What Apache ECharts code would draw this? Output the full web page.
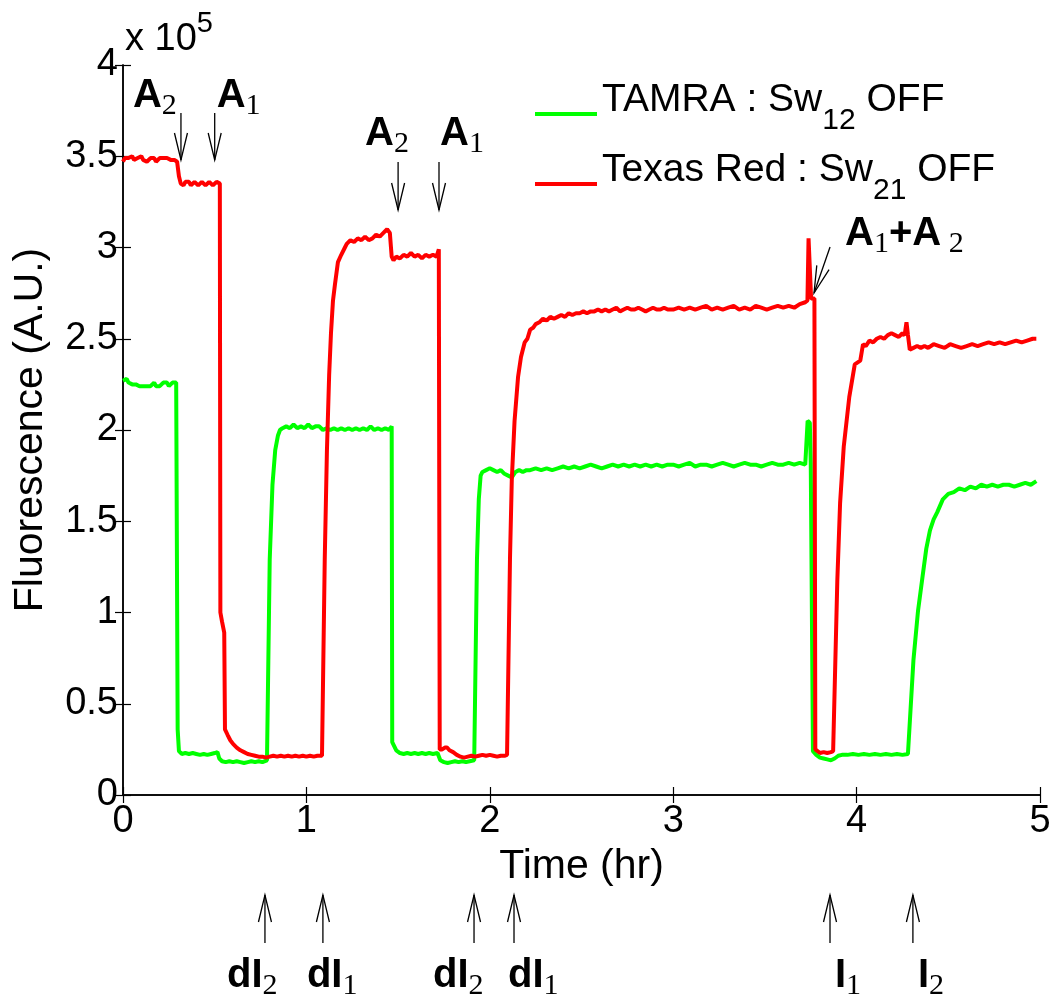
<!DOCTYPE html>
<html>
<head>
<meta charset="utf-8">
<script src="https://cdn.jsdelivr.net/npm/echarts@6/dist/echarts.min.js"></script>
<style>
  html, body { margin: 0; padding: 0; background: #fff; }
  #chart { width: 1058px; height: 1002px; }
</style>
</head>
<body>
<div id="chart"></div>
<script>
// Fluorescence traces, values in units of 1e5 A.U., time in hours
const tamra = [
  [0.00,2.27],[0.01,2.26],[0.02,2.28],[0.03,2.26],[0.04,2.27],[0.05,2.25],[0.06,2.26],[0.07,2.25],[0.08,2.26],[0.09,2.24],
  [0.10,2.25],[0.11,2.24],[0.12,2.25],[0.13,2.24],[0.14,2.25],[0.15,2.24],[0.16,2.25],[0.17,2.26],[0.18,2.24],[0.19,2.25],
  [0.20,2.24],[0.21,2.25],[0.22,2.26],[0.23,2.25],[0.24,2.26],[0.25,2.24],[0.26,2.25],[0.27,2.26],[0.28,2.25],[0.29,2.26],[0.295,2.25],
  [0.298,0.36],[0.305,0.24],[0.32,0.225],[0.34,0.23],[0.36,0.225],[0.38,0.23],[0.40,0.225],[0.42,0.22],[0.44,0.225],[0.46,0.22],
  [0.48,0.225],[0.50,0.23],[0.515,0.235],[0.525,0.20],[0.54,0.185],[0.56,0.18],[0.58,0.185],[0.60,0.18],[0.62,0.185],[0.64,0.18],
  [0.66,0.175],[0.68,0.18],[0.70,0.185],[0.72,0.18],[0.74,0.185],[0.76,0.18],[0.785,0.19],
  [0.80,1.29],[0.815,1.70],[0.83,1.89],[0.845,1.97],[0.856,2.00],[0.87,2.01],[0.89,2.02],[0.91,2.01],[0.93,2.03],[0.95,2.01],
  [0.97,2.02],[0.99,2.01],[1.01,2.03],[1.03,2.01],[1.05,2.02],[1.07,2.02],[1.09,2.00],[1.11,2.01],[1.13,2.00],[1.15,2.01],
  [1.17,2.00],[1.19,2.01],[1.21,2.00],[1.23,2.01],[1.25,2.00],[1.27,2.01],[1.29,2.00],[1.31,2.01],[1.33,2.00],[1.35,2.02],
  [1.37,2.00],[1.39,2.01],[1.41,2.00],[1.43,2.01],[1.45,2.00],[1.465,2.02],
  [1.468,0.29],[1.49,0.245],[1.51,0.23],[1.53,0.225],[1.55,0.23],[1.57,0.225],[1.59,0.23],[1.61,0.225],[1.63,0.23],[1.65,0.225],
  [1.67,0.23],[1.69,0.225],[1.715,0.23],[1.73,0.19],[1.75,0.18],[1.77,0.175],[1.79,0.18],[1.81,0.185],[1.83,0.18],[1.85,0.185],
  [1.87,0.18],[1.89,0.185],[1.915,0.19],
  [1.93,1.29],[1.94,1.62],[1.95,1.75],[1.96,1.77],[1.98,1.78],[2.00,1.79],[2.02,1.78],[2.04,1.77],[2.06,1.78],[2.08,1.76],
  [2.10,1.75],[2.12,1.74],[2.14,1.77],[2.16,1.78],[2.18,1.77],[2.20,1.78],[2.22,1.78],[2.25,1.79],[2.28,1.78],[2.31,1.79],
  [2.34,1.78],[2.37,1.79],[2.40,1.80],[2.43,1.79],[2.46,1.80],[2.49,1.79],[2.52,1.80],[2.55,1.81],[2.58,1.80],[2.61,1.79],
  [2.64,1.80],[2.67,1.81],[2.70,1.80],[2.73,1.81],[2.76,1.80],[2.79,1.81],[2.82,1.80],[2.85,1.81],[2.88,1.80],[2.91,1.81],
  [2.94,1.80],[2.97,1.81],[3.00,1.81],[3.03,1.80],[3.06,1.81],[3.09,1.82],[3.12,1.80],[3.15,1.81],[3.18,1.81],[3.21,1.80],
  [3.24,1.81],[3.27,1.82],[3.30,1.81],[3.33,1.80],[3.36,1.81],[3.39,1.82],[3.42,1.81],[3.45,1.81],[3.48,1.80],[3.51,1.81],
  [3.54,1.82],[3.57,1.81],[3.60,1.81],[3.63,1.82],[3.66,1.81],[3.69,1.82],[3.72,1.81],[3.728,1.82],[3.733,2.05],[3.745,2.04],
  [3.75,1.82],[3.758,1.82],
  [3.762,0.24],[3.78,0.22],[3.80,0.205],[3.82,0.20],[3.84,0.195],[3.86,0.19],[3.88,0.20],[3.90,0.215],[3.92,0.22],[3.95,0.22],
  [3.98,0.225],[4.01,0.22],[4.04,0.225],[4.07,0.22],[4.10,0.225],[4.13,0.22],[4.16,0.225],[4.19,0.22],[4.22,0.225],[4.25,0.22],[4.28,0.225],
  [4.31,0.74],[4.335,1.01],[4.36,1.20],[4.38,1.35],[4.40,1.45],[4.42,1.51],[4.44,1.55],[4.47,1.62],[4.50,1.65],[4.53,1.66],
  [4.56,1.68],[4.59,1.67],[4.62,1.69],[4.65,1.68],[4.68,1.70],[4.71,1.69],[4.74,1.70],[4.77,1.69],[4.80,1.70],[4.83,1.70],
  [4.86,1.69],[4.89,1.70],[4.92,1.71],[4.95,1.70],[4.98,1.72]
];

const texasRed = [
  [0.00,3.47],[0.01,3.49],[0.02,3.48],[0.03,3.49],[0.04,3.48],[0.05,3.50],[0.06,3.48],[0.07,3.47],[0.08,3.49],[0.09,3.48],
  [0.10,3.50],[0.11,3.48],[0.12,3.49],[0.13,3.47],[0.14,3.48],[0.15,3.49],[0.16,3.48],[0.17,3.49],[0.18,3.47],[0.19,3.48],
  [0.20,3.49],[0.21,3.48],[0.22,3.49],[0.23,3.48],[0.24,3.49],[0.25,3.48],[0.26,3.48],[0.27,3.49],[0.28,3.48],[0.295,3.47],
  [0.305,3.39],[0.315,3.35],[0.33,3.34],[0.34,3.36],[0.35,3.35],[0.36,3.36],[0.37,3.34],[0.38,3.35],[0.39,3.36],[0.40,3.35],
  [0.41,3.34],[0.42,3.35],[0.43,3.36],[0.44,3.35],[0.45,3.34],[0.46,3.35],[0.47,3.36],[0.48,3.35],[0.49,3.34],[0.50,3.35],
  [0.51,3.36],[0.52,3.35],[0.528,3.35],
  [0.531,1.00],[0.54,0.95],[0.552,0.89],[0.556,0.36],[0.57,0.33],[0.585,0.30],[0.60,0.28],[0.62,0.26],[0.64,0.245],[0.66,0.235],
  [0.68,0.225],[0.70,0.22],[0.72,0.215],[0.74,0.21],[0.76,0.21],[0.78,0.205],[0.80,0.21],[0.82,0.215],[0.84,0.21],[0.86,0.215],
  [0.88,0.21],[0.90,0.215],[0.92,0.21],[0.94,0.215],[0.96,0.21],[0.98,0.215],[1.00,0.21],[1.02,0.215],[1.04,0.21],[1.06,0.215],[1.085,0.215],
  [1.10,1.29],[1.112,1.89],[1.124,2.30],[1.134,2.53],[1.145,2.71],[1.156,2.80],[1.172,2.92],[1.19,2.96],[1.21,3.00],[1.22,3.02],
  [1.24,3.04],[1.26,3.03],[1.28,3.05],[1.30,3.04],[1.32,3.06],[1.34,3.04],[1.36,3.05],[1.38,3.07],[1.40,3.06],[1.42,3.08],
  [1.44,3.10],[1.455,3.08],[1.465,2.95],[1.475,2.93],[1.49,2.95],[1.51,2.94],[1.53,2.96],[1.55,2.95],[1.57,2.97],[1.59,2.95],
  [1.61,2.96],[1.63,2.94],[1.65,2.96],[1.67,2.95],[1.69,2.96],[1.71,2.95],[1.722,2.99],
  [1.727,0.25],[1.74,0.25],[1.755,0.26],[1.767,0.26],[1.78,0.245],[1.80,0.235],[1.82,0.22],[1.84,0.21],[1.86,0.205],[1.88,0.21],
  [1.90,0.215],[1.92,0.21],[1.94,0.215],[1.96,0.22],[1.98,0.215],[2.00,0.22],[2.02,0.215],[2.04,0.21],[2.06,0.215],[2.08,0.215],[2.094,0.22],
  [2.11,1.29],[2.12,1.73],[2.135,2.05],[2.154,2.29],[2.17,2.40],[2.19,2.48],[2.205,2.50],[2.215,2.51],[2.22,2.55],[2.236,2.56],
  [2.25,2.58],[2.27,2.59],[2.29,2.61],[2.31,2.60],[2.33,2.62],[2.35,2.61],[2.37,2.62],[2.39,2.63],[2.41,2.62],[2.43,2.64],
  [2.45,2.63],[2.47,2.64],[2.49,2.64],[2.51,2.65],[2.53,2.64],[2.55,2.65],[2.57,2.65],[2.59,2.66],[2.61,2.65],[2.63,2.66],
  [2.65,2.65],[2.67,2.66],[2.69,2.67],[2.71,2.65],[2.73,2.66],[2.75,2.67],[2.77,2.66],[2.79,2.66],[2.81,2.67],[2.83,2.66],
  [2.85,2.65],[2.87,2.66],[2.89,2.67],[2.91,2.66],[2.93,2.66],[2.95,2.67],[2.97,2.66],[3.00,2.66],[3.03,2.67],[3.06,2.66],
  [3.09,2.67],[3.12,2.66],[3.15,2.67],[3.18,2.68],[3.21,2.66],[3.24,2.67],[3.27,2.66],[3.30,2.67],[3.33,2.68],[3.36,2.66],
  [3.39,2.67],[3.42,2.66],[3.45,2.68],[3.48,2.67],[3.51,2.66],[3.54,2.67],[3.57,2.68],[3.60,2.67],[3.63,2.68],[3.66,2.67],
  [3.69,2.69],[3.72,2.70],[3.732,2.71],[3.738,3.05],[3.745,3.04],[3.752,2.72],[3.762,2.73],[3.77,2.72],
  [3.775,0.25],[3.80,0.23],[3.82,0.235],[3.84,0.23],[3.86,0.235],[3.872,0.24],
  [3.895,1.18],[3.91,1.60],[3.93,1.91],[3.96,2.18],[3.99,2.36],[4.00,2.37],[4.02,2.38],[4.035,2.47],[4.05,2.46],[4.07,2.49],
  [4.09,2.48],[4.11,2.50],[4.13,2.51],[4.15,2.50],[4.17,2.52],[4.19,2.53],[4.21,2.52],[4.23,2.51],[4.25,2.53],[4.262,2.52],
  [4.272,2.59],[4.28,2.52],[4.29,2.44],[4.31,2.45],[4.33,2.46],[4.35,2.45],[4.37,2.46],[4.39,2.45],[4.42,2.47],[4.45,2.46],
  [4.48,2.45],[4.51,2.47],[4.54,2.46],[4.57,2.45],[4.60,2.46],[4.63,2.47],[4.66,2.46],[4.69,2.47],[4.72,2.48],[4.75,2.47],
  [4.78,2.48],[4.81,2.47],[4.84,2.48],[4.87,2.49],[4.90,2.48],[4.93,2.49],[4.96,2.50],[4.98,2.50]
];

// Axis ranges and tick steps
const xRange = [0, 5];
const xStep = 1;
const yRange = [0, 4];
const yStep = 0.5;

// Event times (hr): strand additions above the traces, inhibitor additions below
const additionTimes = [0.316, 0.50, 1.50, 1.723];
const additionLabels = [['A', '2'], ['A', '1'], ['A', '2'], ['A', '1']];
const comboTime = 3.768;
const inhibitorTimes = [0.774, 1.09, 1.914, 2.132, 3.855, 4.307];
const inhibitorLabels = [['dI', '2'], ['dI', '1'], ['dI', '2'], ['dI', '1'], ['I', '1'], ['I', '2']];

const SANS = '"Liberation Sans", Arial, sans-serif';
const SERIF = '"Liberation Serif", "Times New Roman", serif';
const FS = 38;
const NAME_FS = 41;

const chart = echarts.init(document.getElementById('chart'), null, { renderer: 'canvas' });

const axisLine = { show: true, lineStyle: { color: '#000', width: 1.5 } };
const innerTick = { show: true, inside: true, length: 8, lineStyle: { color: '#000', width: 1.2 } };

chart.setOption({
  animation: false,
  backgroundColor: '#fff',
  grid: { left: 123, right: 18, top: 65, bottom: 207, containLabel: false },
  legend: {
    data: ['TAMRA', 'Texas Red'],
    orient: 'vertical',
    left: 530,
    top: 76,
    itemWidth: 62,
    itemHeight: 4,
    itemGap: 15,
    icon: 'rect',
    selectedMode: false,
    formatter: name => name === 'TAMRA'
      ? '{m|TAMRA : Sw}{s|12}{m| OFF}'
      : '{m|Texas Red : Sw}{s|21}{m| OFF}',
    textStyle: {
      rich: {
        m: { fontSize: 39, fontFamily: SANS, color: '#000', verticalAlign: 'top' },
        s: { fontSize: 30, fontFamily: SANS, color: '#000', verticalAlign: 'top', padding: [25, 0, 11, 0] }
      }
    }
  },
  xAxis: [
    {
      type: 'value', min: xRange[0], max: xRange[1], interval: xStep,
      name: 'Time (hr)', nameLocation: 'middle', nameGap: 45,
      nameTextStyle: { fontSize: NAME_FS, fontFamily: SANS, color: '#000' },
      axisLine, axisTick: innerTick, splitLine: { show: false },
      axisLabel: { fontSize: FS, fontFamily: SANS, color: '#000', margin: 8 }
    },
    {
      type: 'value', position: 'top', min: xRange[0], max: xRange[1], interval: xStep,
      axisLine, axisTick: innerTick, splitLine: { show: false }, axisLabel: { show: false }
    }
  ],
  yAxis: [
    {
      type: 'value', min: yRange[0], max: yRange[1], interval: yStep,
      name: 'Fluorescence (A.U.)', nameLocation: 'middle', nameGap: 72,
      nameTextStyle: { fontSize: NAME_FS, fontFamily: SANS, color: '#000' },
      axisLine, axisTick: innerTick, splitLine: { show: false },
      axisLabel: { fontSize: FS, fontFamily: SANS, color: '#000', margin: 5 }
    },
    {
      type: 'value', position: 'right', min: yRange[0], max: yRange[1], interval: yStep,
      axisLine, axisTick: innerTick, splitLine: { show: false }, axisLabel: { show: false }
    }
  ],
  series: [
    {
      name: 'TAMRA', type: 'line', data: tamra, showSymbol: false, color: '#00ff00',
      lineStyle: { width: 4, color: '#00ff00' }, z: 2
    },
    {
      name: 'Texas Red', type: 'line', data: texasRed, showSymbol: false, color: '#ff0000',
      lineStyle: { width: 4, color: '#ff0000' }, z: 3
    }
  ]
});

// ---- annotations: arrows and subscripted labels ----
const ctx = document.createElement('canvas').getContext('2d');
function textWidth(str, font) { ctx.font = font; return ctx.measureText(str).width; }

const PIECE = {
  main: { size: 40, weight: 'bold', family: SANS, dy: 0 },
  sub:  { size: 30, weight: 'normal', family: SERIF, dy: 7 },
  norm: { size: FS, weight: 'normal', family: SANS, dy: 0 },
  sup:  { size: 29, weight: 'normal', family: SANS, dy: -19 }
};

function labelPieces(x, baseline, parts) {
  const out = [];
  let cx = x;
  parts.forEach(([str, kind]) => {
    const p = PIECE[kind];
    const font = `${p.weight} ${p.size}px ${p.family}`;
    out.push({
      type: 'text', x: cx, y: baseline + p.dy - 0.35 * p.size, silent: true,
      style: { text: str, fontSize: p.size, fontWeight: p.weight, fontFamily: p.family,
               fill: '#000', align: 'left', verticalAlign: 'middle' }
    });
    cx += textWidth(str, font);
  });
  return out;
}

function arrow(x1, y1, x2, y2) {
  const dx = x2 - x1, dy = y2 - y1, len = Math.hypot(dx, dy);
  const ux = dx / len, uy = dy / len;
  const hl = 27, hw = 6.5;
  const bx = x2 - ux * hl, by = y2 - uy * hl;
  const stroke = { stroke: '#000', lineWidth: 1.3, fill: null };
  return [
    { type: 'line', silent: true, shape: { x1, y1, x2, y2 }, style: stroke },
    { type: 'polyline', silent: true,
      shape: { points: [[bx - uy * hw, by + ux * hw], [x2, y2], [bx + uy * hw, by - ux * hw]] },
      style: stroke }
  ];
}

const px = t => chart.convertToPixel({ xAxisIndex: 0 }, t);

// label offsets from the arrow shaft and row heights
const addRows = [
  { top: 113, tip: 160, base: 110, dx: -48 },
  { top: 113, tip: 160, base: 110, dx: 2 },
  { top: 162, tip: 210, base: 148, dx: -33 },
  { top: 162, tip: 210, base: 148, dx: 1 }
];
const inhRow = { tail: 943, tip: 895, base: 990 };
const inhDx = [-38, -16, -41, -6, 5, 5];

const elements = [];
additionTimes.forEach((t, i) => {
  const x = px(t), r = addRows[i];
  elements.push(...arrow(x, r.top, x, r.tip));
  elements.push(...labelPieces(x + r.dx, r.base, [[additionLabels[i][0], 'main'], [additionLabels[i][1], 'sub']]));
});

const cx = px(comboTime);
elements.push(...arrow(cx + 16, 247, cx, 293));
elements.push(...labelPieces(cx + 31, 248, [['A', 'main'], ['1', 'sub'], ['+', 'main'], ['A', 'main'], [' 2', 'sub']]));

inhibitorTimes.forEach((t, i) => {
  const x = px(t);
  elements.push(...arrow(x, inhRow.tail, x, inhRow.tip));
  elements.push(...labelPieces(x + inhDx[i], inhRow.base, [[inhibitorLabels[i][0], 'main'], [inhibitorLabels[i][1], 'sub']]));
});

// axis multiplier above the y axis
elements.push(...labelPieces(125, 53, [['x 10', 'norm'], ['5', 'sup']]));

chart.setOption({ graphic: { elements } });
</script>
</body>
</html>
